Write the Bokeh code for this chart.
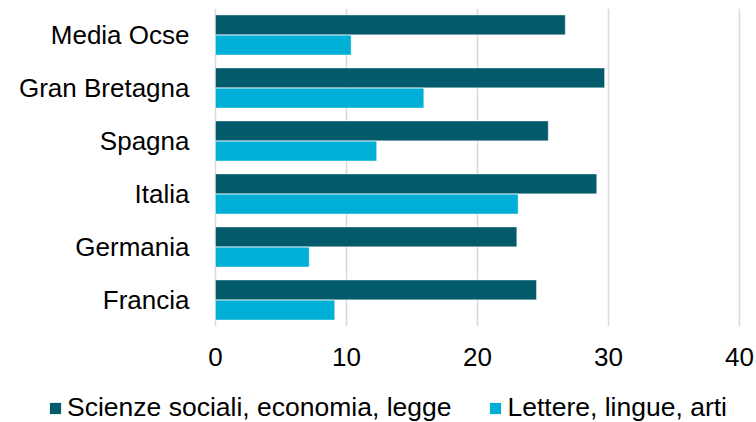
from bokeh.plotting import figure
from bokeh.layouts import column
from bokeh.models import Legend, LegendItem, ColumnDataSource, FactorRange, FixedTicker
from bokeh.transform import dodge
from bokeh.embed import file_html
from bokeh.resources import INLINE

categories = ["Francia", "Germania", "Italia", "Spagna", "Gran Bretagna", "Media Ocse"]
scienze_sociali = [24.5, 23.0, 29.1, 25.4, 29.7, 26.7]
lettere = [9.1, 7.15, 23.1, 12.3, 15.9, 10.35]
x_ticks = [0, 10, 20, 30, 40]
series_names = ["Scienze sociali, economia, legge", "Lettere, lingue, arti"]

DARK = "#035A6B"
LIGHT = "#00AFD5"
FONT = "Liberation Sans"
FS = "26px"

W = 756
AXIS_PX = 215      # where value 0 sits
PX40 = 739         # where value 40 sits
x_start = -AXIS_PX / (PX40 - AXIS_PX) * 40
x_end = (W - AXIS_PX) / (PX40 - AXIS_PX) * 40

src = ColumnDataSource(dict(cat=categories, s1=scienze_sociali, s2=lettere))

p = figure(width=W, height=380, y_range=FactorRange(*categories), x_range=(x_start, x_end),
           output_backend="svg", toolbar_location=None,
           min_border_left=0, min_border_right=0, min_border_top=8, min_border_bottom=54)
p.outline_line_color = None
p.background_fill_color = "white"

r1 = p.hbar(y=dodge("cat", 0.19, range=p.y_range), right="s1", left=0, height=0.375,
            source=src, fill_color=DARK, line_color="white", line_width=1, line_alpha=0.4)
r2 = p.hbar(y=dodge("cat", -0.19, range=p.y_range), right="s2", left=0, height=0.375,
            source=src, fill_color=LIGHT, line_color="white", line_width=1, line_alpha=0.4)

p.xaxis.ticker = FixedTicker(ticks=x_ticks)
p.xaxis.axis_line_color = None
p.xaxis.major_tick_line_color = None
p.xaxis.minor_tick_line_color = None
p.xaxis.major_label_standoff = 15
p.xaxis.major_label_text_font = FONT
p.xaxis.major_label_text_font_size = FS
p.xaxis.major_label_text_color = "#000000"

p.yaxis.fixed_location = 0
p.yaxis.axis_line_color = None
p.yaxis.major_tick_line_color = None
p.yaxis.minor_tick_line_color = None
p.yaxis.major_label_standoff = 20
p.yaxis.major_label_text_font = FONT
p.yaxis.major_label_text_font_size = FS
p.yaxis.major_label_text_color = "#000000"

p.ygrid.grid_line_color = None
p.xgrid.grid_line_color = "#D9D9D9"
p.xgrid.grid_line_width = 1.5

# legend strip
p2 = figure(width=W, height=42, x_range=(0, 1), y_range=(0, 1),
            output_backend="svg", toolbar_location=None,
            x_axis_location=None, y_axis_location=None,
            min_border_left=0, min_border_right=0, min_border_top=0, min_border_bottom=0)
p2.outline_line_color = None
p2.grid.visible = False
l1 = p2.hbar(y="s1", right="s1", left=0, height=0.5, source=src,
             fill_color=DARK, line_color=None, visible=False)
l2 = p2.hbar(y="s2", right="s2", left=0, height=0.5, source=src,
             fill_color=LIGHT, line_color=None, visible=False)

legend = Legend(items=[LegendItem(label=series_names[0], renderers=[l1]),
                       LegendItem(label=series_names[1], renderers=[l2])],
                orientation="horizontal", location=(48, -1),
                glyph_width=14, glyph_height=14, label_standoff=5, spacing=37,
                padding=0, margin=0, border_line_color=None, background_fill_alpha=0,
                label_text_font=FONT, label_text_font_size="26.5px", label_text_color="#000000")
p2.add_layout(legend, "center")

layout = column(p, p2, spacing=0)
open("out.html", "w").write(file_html(layout, INLINE))
